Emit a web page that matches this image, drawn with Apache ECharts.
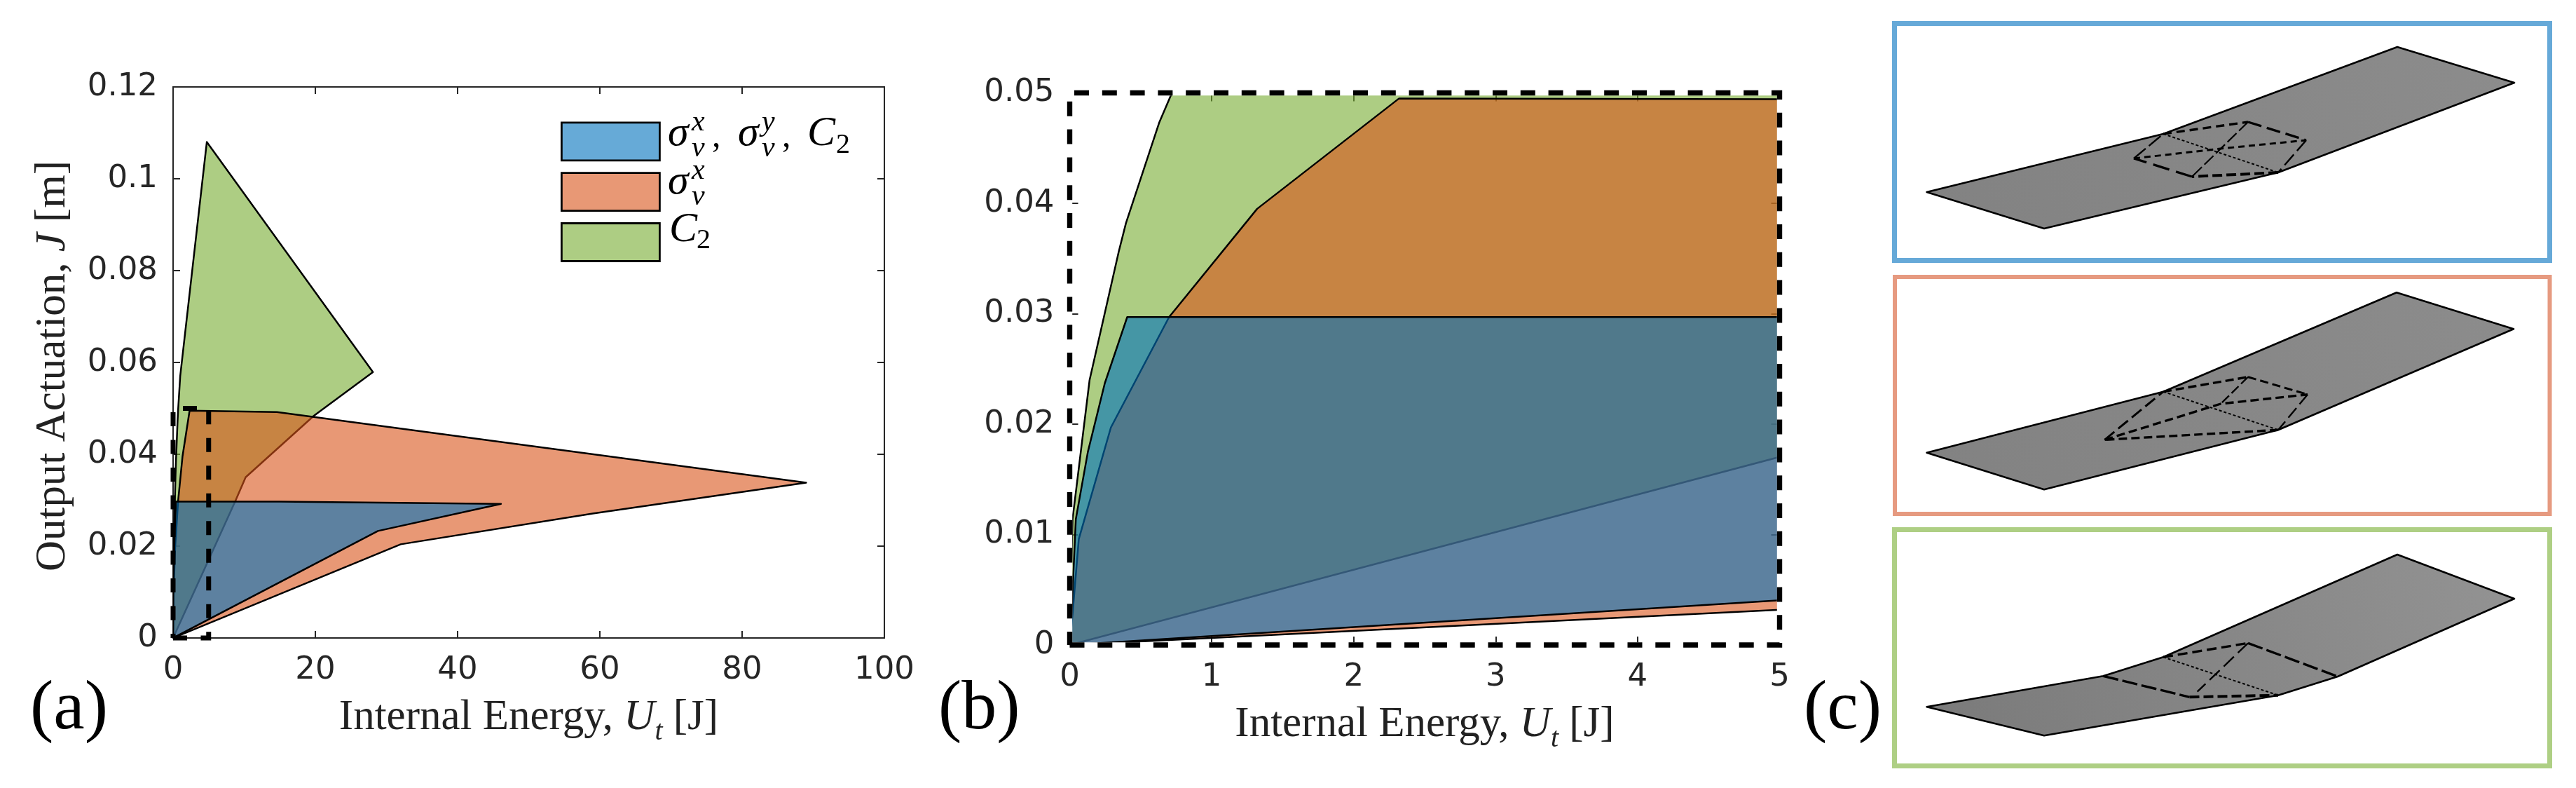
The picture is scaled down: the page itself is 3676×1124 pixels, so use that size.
<!DOCTYPE html>
<html>
<head>
<meta charset="utf-8">
<title>Output actuation vs internal energy</title>
<script src="https://cdn.jsdelivr.net/npm/echarts@6/dist/echarts.min.js"></script>
<style>
html,body{margin:0;padding:0;background:#fff;}
#main{width:3676px;height:1124px;}
</style>
</head>
<body>
<div id="main"></div>
<script>
// feasible regions (a) and (b)
var greenX = [0, 0.005, 0.02, 0.14, 0.345, 0.396, 0.63, 0.72, 1.0, 4.74, 28.1, 19.8, 10.2, 8.75, 0];
var greenY = [0, 0.004, 0.0114, 0.024, 0.0356, 0.0382, 0.0473, 0.05, 0.057, 0.108, 0.0579, 0.0484, 0.035, 0.0298, 0];
var orangeX = [0, 0.02, 0.064, 0.29, 0.70, 1.32, 2.32, 14.6, 89, 59, 32, 0];
var orangeY = [0, 0.0028, 0.0096, 0.0197, 0.0297, 0.0395, 0.0495, 0.0492, 0.0338, 0.0271, 0.0204, 0];
var blueX = [0, 0.013, 0.043, 0.128, 0.247, 0.405, 15, 46.1, 28.8, 0];
var blueY = [0, 0.0028, 0.0114, 0.0175, 0.0237, 0.0297, 0.0297, 0.0292, 0.0233, 0];
// zoom window shown dashed in (a) and as the whole of (b)
var zoomBoxX = [0, 5, 5, 0, 0];
var zoomBoxY = [0, 0, 0.05, 0.05, 0];
var legendNames = ['σvx, σvy, C2', 'σvx', 'C2'];

// panel (c) sketches, in page pixels from x=2650
var frames = [
    {color:'#66A9D8', width:7, x0:53.5, x1:988.5, y0:33.5, y1:371.5},
    {color:'#E69A80', width:6, x0:54, x1:988.5, y0:395, y1:733},
    {color:'#AECF84', width:7, x0:53.5, x1:988.5, y0:755.5, y1:1092.5}
];
var plates = [
    [[99.5,274],[437,191],[771,67],[938,118],[601,246],[267,326]],
    [[99.5,645.7],[437,558.7],[770,417.3],[937,469.3],[601,613.3],[267,698.3]],
    [[99.5,1008.3],[351.4,964.3],[437,937.3],[771,791],[938,854],[686,965],[601,991.7],[267,1049.3]]
];
// fold lines: [points, lineWidth, dash]
var folds = [
    [[[437,191],[558,174]],3.4,[12,7]], [[[558,174],[641,200]],3.4,[20,8]], [[[641,200],[601,246]],2.4,[20,7]],
    [[[601,246],[478,252]],4,[14,6]], [[[478,252],[395,226]],3.4,[24,10]], [[[395,226],[437,191]],2.4,[22,6]],
    [[[395,226],[519,212],[641,200]],3,[9,6]], [[[558,174],[478,252]],2.2,[18,5]], [[[437,191],[601,246]],2,[4,3]],
    [[[437,558.7],[558,537.7]],3.4,[12,6]], [[[558,537.7],[643,562.7]],3,[12,6]], [[[643,562.7],[601,613.3]],2.4,[18,7]],
    [[[601,613.3],[353.4,627.3]],3.4,[12,6]], [[[353.4,627.3],[437,558.7]],3,[18,7]], [[[353.4,627.3],[519,576],[643,562.7]],3.4,[12,6]],
    [[[558,537.7],[519,576]],2.4,[14,5]], [[[437,558.7],[601,613.3]],2,[4,3]],
    [[[437,937.3],[558,917.3]],3.4,[14,7]], [[[558,917.3],[686,965]],3.4,[22,6]], [[[351.4,964.3],[474.5,994.3]],3.4,[22,6]],
    [[[474.5,994.3],[601,991.7]],4,[14,6]], [[[437,937.3],[601,991.7]],2,[4,3]], [[[558,917.3],[485.6,986.7]],2.4,[20,8]]
];

var ink = '#262626';
var serif = 'Liberation Serif';
var fillGreen = 'rgba(119,172,48,0.6)';
var fillOrange = 'rgba(217,83,25,0.6)';
var fillBlue = 'rgba(0,114,189,0.6)';

function zip(xs, ys){
    return xs.map(function(x, i){ return [x, ys[i]]; });
}

// one custom series drawing a closed or open path through the axes
function pathSeries(opt){
    return {
        type: 'custom',
        name: opt.name,
        xAxisIndex: opt.axis,
        yAxisIndex: opt.axis,
        data: opt.points,
        encode: {x:0, y:1},
        clip: !!opt.clip,
        silent: true,
        animation: false,
        z: opt.z || 2,
        itemStyle: {color: opt.fill || 'none'},
        renderItem: function(params, api){
            if(params.dataIndex !== 0) return;
            var pts = opt.points.map(function(p){ return api.coord(p); });
            return {
                type: opt.open ? 'polyline' : 'polygon',
                shape: {points: pts},
                style: {
                    fill: opt.open ? null : (opt.fill || null),
                    stroke: opt.stroke || '#000',
                    lineWidth: opt.width,
                    lineDash: opt.dash || null,
                    lineJoin: opt.join || 'round',
                    lineCap: 'butt'
                }
            };
        }
    };
}

function regions(axis, clip){
    return [
        pathSeries({name:legendNames[2], axis:axis, points:zip(greenX, greenY), fill:fillGreen, width:2.5, clip:clip, z:2}),
        pathSeries({name:legendNames[1], axis:axis, points:zip(orangeX, orangeY), fill:fillOrange, width:2.5, clip:clip, z:3}),
        pathSeries({name:legendNames[0], axis:axis, points:zip(blueX, blueY), fill:fillBlue, width:2.5, clip:clip, z:4})
    ];
}

function axisPair(grid, pos, type, max, interval, showLabel, showLine){
    return {
        type: 'value', gridIndex: grid, position: pos,
        min: 0, max: max, interval: interval,
        splitLine: {show:false},
        axisLine: {show:showLine, onZero:false, lineStyle:{color:ink, width:2}},
        axisTick: {show:true, inside:true, length:showLine ? 10 : 12, lineStyle:{color:ink, width:2}},
        axisLabel: showLabel ? {
            show:true, color:ink, fontFamily:'DejaVu Sans', fontSize:45,
            margin:type === 'x' ? 24 : 22, showMinLabel:true, showMaxLabel:true, hideOverlap:false
        } : {show:false}
    };
}

var nameRich = {
    r: {fontFamily:serif, fontSize:61, color:'#222'},
    i: {fontFamily:serif, fontSize:61, fontStyle:'italic', color:'#222'},
    s: {fontFamily:serif, fontSize:40, fontStyle:'italic', color:'#222', verticalAlign:'bottom', lineHeight:80}
};
function withName(ax, text, gap, pad){
    ax.name = text;
    ax.nameLocation = 'middle';
    ax.nameGap = gap;
    ax.nameTextStyle = {rich: nameRich, padding: pad || 0};
    return ax;
}

var xName = '{r|Internal Energy, }{i|U}{s|t}{r| [J]}';
var yName = '{r|Output Actuation, }{i|J}{r| [m]}';

var xAxes = [
    withName(axisPair(0,'bottom','x',100,20,true,true), xName, 74),
    axisPair(0,'top','x',100,20,false,true),
    withName(axisPair(1,'bottom','x',5,1,true,false), xName, 74),
    axisPair(1,'top','x',5,1,false,false),
    {type:'value', gridIndex:2, min:0, max:1026, show:false}
];
var yAxes = [
    withName(axisPair(0,'left','y',0.12,0.02,true,true), yName, 141, [0,10,0,0]),
    axisPair(0,'right','y',0.12,0.02,false,true),
    axisPair(1,'left','y',0.05,0.01,true,false),
    axisPair(1,'right','y',0.05,0.01,false,false),
    {type:'value', gridIndex:2, min:0, max:1124, inverse:true, show:false}
];

// primary axes are 0 (a), 2 (b), 4 (c)
var series = [];
series = series.concat(regions(0, true));
series.push(pathSeries({name:'zoomA', axis:0, points:zip(zoomBoxX, zoomBoxY), width:7, dash:[20,19.5], open:true, join:'miter', z:6}));
series = series.concat(regions(2, true));
series.push(pathSeries({name:'maskB', axis:2, points:zip(zoomBoxX, zoomBoxY), width:7.4, stroke:'#fff', open:true, join:'miter', z:5}));
series.push(pathSeries({name:'zoomB', axis:2, points:zip(zoomBoxX, zoomBoxY), width:7.4, dash:[21,18.8], open:true, join:'miter', z:6}));

plates.forEach(function(p, i){
    var shade = new echarts.graphic.LinearGradient(0, 1, 1, 0, [
        {offset:0, color: i === 2 ? '#7a7a7a' : '#828282'},
        {offset:1, color: i === 2 ? '#939393' : '#8c8c8c'}
    ]);
    series.push(pathSeries({name:'plate'+i, axis:4, points:p, fill:shade, width:2.6, z:2}));
});
folds.forEach(function(f, i){
    series.push(pathSeries({name:'fold'+i, axis:4, points:f[0], width:f[1], dash:f[2], open:true, z:3}));
});
frames.forEach(function(f, i){
    series.push(pathSeries({
        name:'frame'+i, axis:4, width:f.width, stroke:f.color, join:'miter', z:4,
        points:[[f.x0,f.y0],[f.x1,f.y0],[f.x1,f.y1],[f.x0,f.y1]]
    }));
});

// stacked math labels and panel letters, y is the text baseline
function label(x, base, text, size, italic){
    return {
        type:'text', left:x, top:base - size * 0.89, z:20, silent:true,
        style:{text:text, fontFamily:serif, fontSize:size, fontStyle:italic ? 'italic' : 'normal', fill:'#000'}
    };
}
function sigma(x, base, sup){
    return [label(x, base, 'σ', 60, true), label(x+34, base-24, sup, 42, true), label(x+34, base+13, 'v', 42, true)];
}
var texts = [].concat(
    sigma(953, 215, 'x'), [label(1016, 215, ',', 50, false)],
    sigma(1053, 215, 'y'), [label(1116, 215, ',', 50, false)],
    [label(1152, 215, 'C', 60, true), label(1193, 223, '2', 40, false)],
    sigma(953, 284, 'x'),
    [label(955, 352, 'C', 60, true), label(994, 359, '2', 40, false)],
    [label(43, 1052, '(a)', 100, false), label(1339, 1052, '(b)', 100, false), label(2574, 1052, '(c)', 100, false)]
);

var chart = echarts.init(document.getElementById('main'), null, {renderer:'canvas'});
chart.setOption({
    backgroundColor: '#fff',
    animation: false,
    grid: [
        {left:247, top:124, width:1015, height:786},
        {left:1526.5, top:132.5, width:1013, height:787.5},
        {left:2650, top:0, width:1026, height:1124}
    ],
    xAxis: xAxes,
    yAxis: yAxes,
    legend: {
        data: legendNames,
        orient: 'vertical',
        left: 795, top: 168.5,
        itemWidth: 140, itemHeight: 54, itemGap: 15,
        icon: 'rect',
        selectedMode: false,
        formatter: function(){ return ''; },
        itemStyle: {borderColor:'#000', borderWidth:2.8}
    },
    series: series,
    graphic: texts
});
</script>
</body>
</html>
